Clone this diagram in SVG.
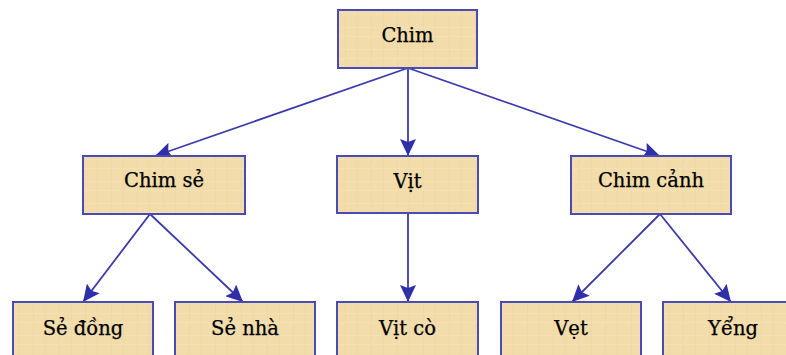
<svg xmlns="http://www.w3.org/2000/svg" width="786" height="355" viewBox="0 0 786 355">
  <defs>
    <!-- parchment-like fill -->
    <pattern id="parchment" width="26" height="22" patternUnits="userSpaceOnUse">
      <rect width="26" height="22" fill="#f1dcaa"/>
      <path d="M0 5.5H26M0 14.5H26" stroke="#f5e4bb" stroke-width="1.2" opacity="0.6"/>
      <path d="M7.5 0V22M19.5 0V22" stroke="#ecd6a2" stroke-width="1" opacity="0.5"/>
      <path d="M2 19L12 9" stroke="#f6e6c0" stroke-width="0.8" opacity="0.5"/>
    </pattern>
    <marker id="arrow" markerUnits="userSpaceOnUse" markerWidth="18" markerHeight="16" refX="17" refY="8" orient="auto">
      <path d="M0 0L17 8L0 16L3 8Z" fill="#2f2fa8"/>
    </marker>
    <style>
      .box { fill: url(#parchment); stroke: #4b4bb8; stroke-width: 2; }
      .label { font-family: "DejaVu Serif", "Liberation Serif", serif; font-size: 19.5px; fill: #000; stroke: #000; stroke-width: 0.25; text-anchor: middle; }
      .edge { stroke: #3a3aae; stroke-width: 1.8; fill: none; marker-end: url(#arrow); }
    </style>
  </defs>

  <g id="connectors">
    <line class="edge" x1="408" y1="68" x2="155" y2="156"/>
    <line class="edge" x1="408" y1="68" x2="408" y2="156"/>
    <line class="edge" x1="408" y1="68" x2="660" y2="156"/>
    <line class="edge" x1="150" y1="214" x2="83" y2="302"/>
    <line class="edge" x1="150" y1="214" x2="243" y2="302"/>
    <line class="edge" x1="408" y1="213" x2="408" y2="302"/>
    <line class="edge" x1="660" y1="214" x2="572" y2="302"/>
    <line class="edge" x1="660" y1="214" x2="731" y2="302"/>
  </g>

  <g id="chim">
    <rect class="box" x="338" y="10" width="139" height="58"/>
    <text class="label" x="407.5" y="42">Chim</text>
  </g>
  <g id="chim-se">
    <rect class="box" x="83" y="156" width="162" height="58"/>
    <text class="label" x="164" y="187">Chim sẻ</text>
  </g>
  <g id="vit">
    <rect class="box" x="337" y="156" width="141" height="57"/>
    <text class="label" x="407.5" y="188">Vịt</text>
  </g>
  <g id="chim-canh">
    <rect class="box" x="571" y="156" width="160" height="58"/>
    <text class="label" x="651" y="187">Chim cảnh</text>
  </g>
  <g id="se-dong">
    <rect class="box" x="13" y="302" width="140" height="60"/>
    <text class="label" x="83" y="335">Sẻ đồng</text>
  </g>
  <g id="se-nha">
    <rect class="box" x="175" y="302" width="140" height="60"/>
    <text class="label" x="245" y="335">Sẻ nhà</text>
  </g>
  <g id="vit-co">
    <rect class="box" x="337" y="302" width="141" height="60"/>
    <text class="label" x="407.5" y="335">Vịt cò</text>
  </g>
  <g id="vet">
    <rect class="box" x="501" y="302" width="140" height="60"/>
    <text class="label" x="571" y="335">Vẹt</text>
  </g>
  <g id="yeng">
    <rect class="box" x="663" y="302" width="140" height="60"/>
    <text class="label" x="733" y="335">Yểng</text>
  </g>
</svg>
